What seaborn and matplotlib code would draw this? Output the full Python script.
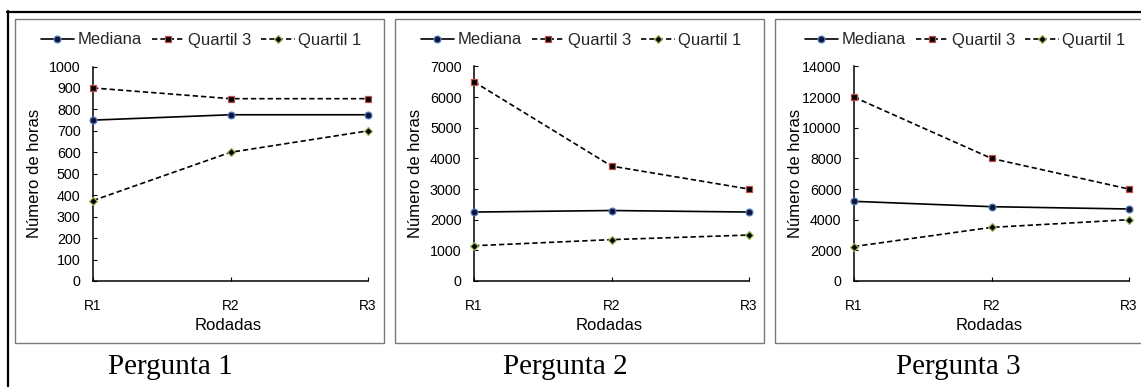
import matplotlib
matplotlib.use("Agg")
import matplotlib.pyplot as plt
import seaborn as sns
import pandas as pd
from matplotlib.patches import Rectangle
from matplotlib.lines import Line2D

# ---- data -------------------------------------------------------------
rodadas = ["R1", "R2", "R3"]
series_names = ["Mediana", "Quartil 3", "Quartil 1"]
panel_titles = ["Pergunta 1", "Pergunta 2", "Pergunta 3"]

p1_mediana = [750, 775, 775]
p1_quartil3 = [900, 850, 850]
p1_quartil1 = [375, 600, 700]

p2_mediana = [2250, 2300, 2250]
p2_quartil3 = [6500, 3750, 3000]
p2_quartil1 = [1150, 1350, 1500]

p3_mediana = [5200, 4850, 4700]
p3_quartil3 = [12000, 8000, 6000]
p3_quartil1 = [2250, 3500, 4000]

y_max = [1000, 7000, 14000]
y_step = [100, 1000, 2000]

panels = [
    (p1_mediana, p1_quartil3, p1_quartil1),
    (p2_mediana, p2_quartil3, p2_quartil1),
    (p3_mediana, p3_quartil3, p3_quartil1),
]

# ---- styling ------------------------------------------------------------
sns.set_theme(style="white")
plt.rcParams["font.family"] = ["Liberation Sans", "DejaVu Sans"]

W, H = 1141, 387
DPI = 100
fig = plt.figure(figsize=(W / DPI, H / DPI), dpi=DPI)
fig.patch.set_facecolor("white")

styles = {
    "Mediana": dict(marker="o", ms=4.9, mfc="#14143a", mec="#4F81BD", ls="-"),
    "Quartil 3": dict(marker="s", ms=4.7, mfc="black", mec="#C0504D", ls=(0, (3.2, 1.8))),
    "Quartil 1": dict(marker="D", ms=4.4, mfc="black", mec="#9BBB59", ls=(0, (3.2, 1.8))),
}


def fx(px):
    return px / W


def fy(py):
    return 1 - py / H


# axes placement (pixels): left edge of each plotting area
axes_left = [93, 474, 854]
axes_w = 275
axes_top, axes_bottom = 66.5, 281
box_x = [(15, 384), (395, 764), (775, 1150)]
legend_cx = [201, 581, 965]
title_cx = [170, 565, 958]

# outer frame
fig.add_artist(Line2D([fx(7), fx(1141)], [fy(11.5), fy(11.5)], color="black", lw=1.6,
                      transform=fig.transFigure))
fig.add_artist(Line2D([fx(8), fx(8)], [fy(11), fy(387)], color="black", lw=1.6,
                      transform=fig.transFigure))

for i, (vals, ymax, ystep) in enumerate(zip(panels, y_max, y_step)):
    # panel frame
    x0, x1 = box_x[i]
    fig.add_artist(Rectangle((fx(x0), fy(342.5)), fx(x1) - fx(x0), fy(18.5) - fy(342.5),
                             transform=fig.transFigure, fill=False,
                             edgecolor="#7a7a7a", lw=1.0))

    ax = fig.add_axes([fx(axes_left[i]), fy(axes_bottom), fx(axes_w),
                       fy(axes_top) - fy(axes_bottom)])
    ax.set_facecolor("none")

    handles = []
    for name, values in zip(series_names, vals):
        df = pd.DataFrame({"Rodada": rodadas, "Horas": values})
        st = styles[name]
        sns.lineplot(data=df, x="Rodada", y="Horas", ax=ax, sort=False,
                     color="black", lw=1.2, linestyle=st["ls"],
                     marker=st["marker"], markersize=st["ms"],
                     markerfacecolor=st["mfc"], markeredgecolor=st["mec"],
                     markeredgewidth=0.9, clip_on=False, zorder=3, label=name)
        handles.append(Line2D([], [], color="black", lw=1.2, linestyle=st["ls"],
                              marker=st["marker"], markersize=st["ms"],
                              markerfacecolor=st["mfc"], markeredgecolor=st["mec"],
                              markeredgewidth=0.9))
    if ax.get_legend() is not None:
        ax.get_legend().remove()

    ax.set_xlim(0, 2)
    ax.set_ylim(0, ymax)
    ax.set_yticks(list(range(0, ymax + 1, ystep)))
    ax.set_xticks([0, 1, 2])
    ax.set_xticklabels(rodadas)

    for side in ["top", "right"]:
        ax.spines[side].set_visible(False)
    for side in ["left", "bottom"]:
        ax.spines[side].set_visible(True)
        ax.spines[side].set_color("black")
        ax.spines[side].set_linewidth(1.1)

    ax.tick_params(axis="y", direction="in", length=3, width=0.8, color="black",
                   labelsize=10.3, pad=9, left=True, labelcolor="black")
    ax.tick_params(axis="x", direction="in", length=3, width=0.8, color="black",
                   labelsize=9.8, pad=13, bottom=True, labelcolor="black")

    ax.set_ylabel("Número de horas", fontsize=12, color="black")
    ax.yaxis.set_label_coords(-0.212, 0.5)
    ax.yaxis.label.set_va("center")
    ax.set_xlabel("Rodadas", fontsize=12, color="black")
    ax.xaxis.set_label_coords(0.49, -0.209)
    ax.xaxis.label.set_va("center")

    ax.legend(handles, series_names, loc="center",
              bbox_to_anchor=(fx(legend_cx[i]), fy(40)),
              bbox_transform=fig.transFigure, ncol=3, frameon=False,
              fontsize=12, handlelength=2.0, handletextpad=0.2,
              columnspacing=0.6, borderpad=0, borderaxespad=0)

    fig.text(fx(title_cx[i]), fy(367), panel_titles[i], ha="center", va="center",
             fontsize=21, family=["Liberation Serif", "DejaVu Serif"], color="black")

fig.savefig("out.png", dpi=DPI)
